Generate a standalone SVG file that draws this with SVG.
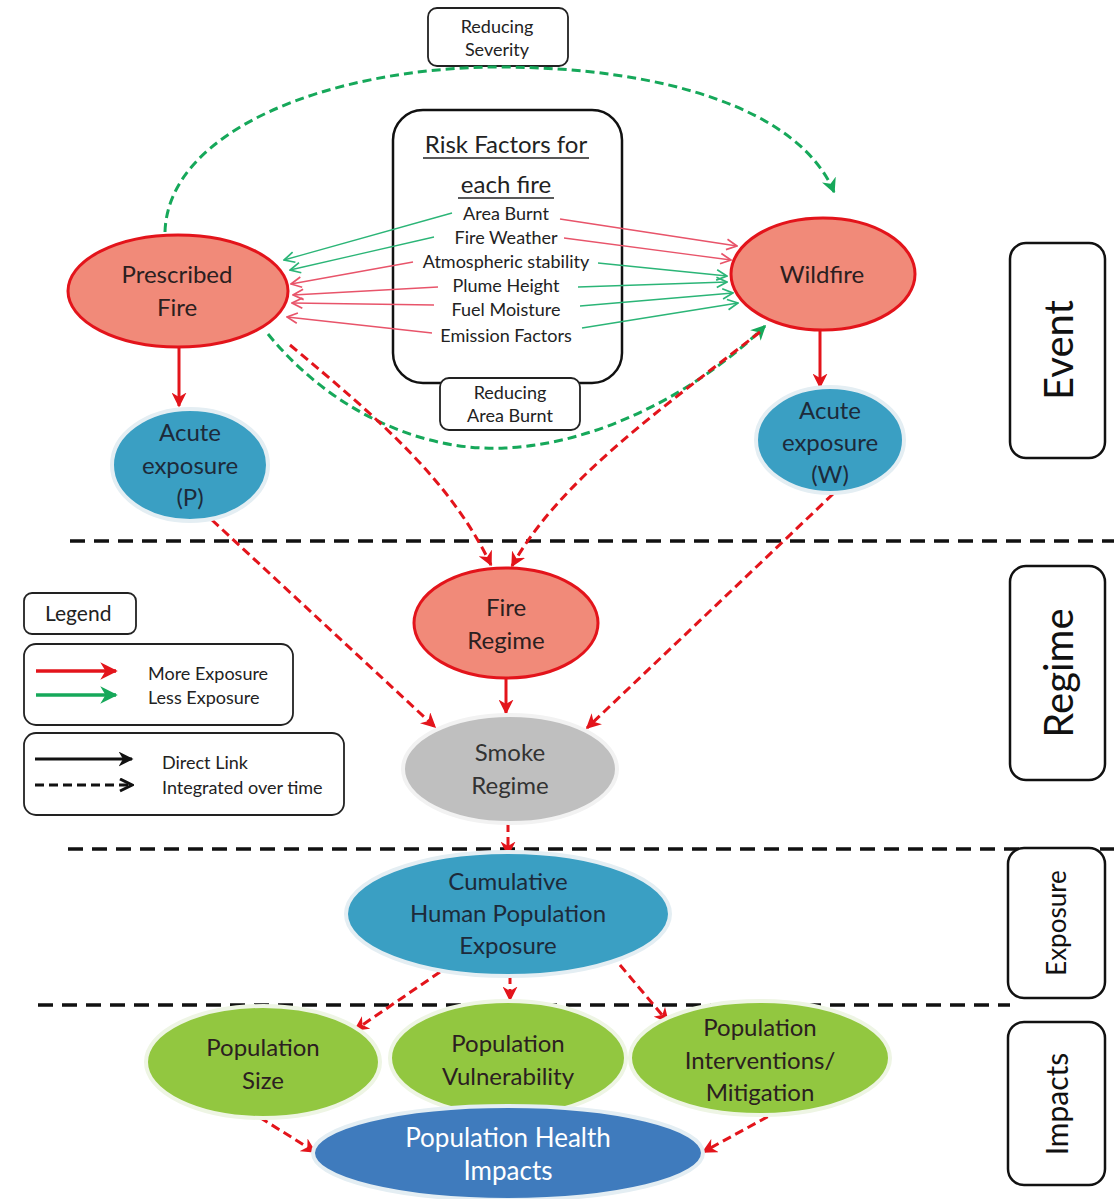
<svg xmlns="http://www.w3.org/2000/svg" width="1114" height="1199" viewBox="0 0 1114 1199">
<defs>
<style>
text{font-family:Lato,"Liberation Sans",sans-serif;text-anchor:middle;fill:#2b2020}
.n{font-size:24px}
.rf{font-size:18px;fill:#222}
.sm{font-size:18px;fill:#222}
.lg{font-size:18px;fill:#222;text-anchor:start}
.side{font-size:40px;fill:#111}
.box{fill:#fff;stroke:#111;stroke-width:2.5}
.sbox{fill:#fff;stroke:#222;stroke-width:1.8}
.fire{fill:#f18a79;stroke:#e3141b;stroke-width:3}
.blue{fill:#3a9fc3;stroke:#e4eef3;stroke-width:4}
.grey{fill:#bfbfbf;stroke:#f2f2f2;stroke-width:4}
.green{fill:#92c740;stroke:#eef5e4;stroke-width:4}
.hi{fill:#3f7bbd;stroke:#e4eef3;stroke-width:4}
.sep{stroke:#111;stroke-width:3.5;stroke-dasharray:15 9;fill:none}
.rd{stroke:#e3141b;stroke-width:3;stroke-dasharray:9 5;fill:none}
.rs{stroke:#e3141b;stroke-width:3;fill:none}
.gd{stroke:#16a85a;stroke-width:3;stroke-dasharray:9 5;fill:none}
.rt{stroke:#e8546a;stroke-width:1.3;fill:none}
.gt{stroke:#2bb577;stroke-width:1.3;fill:none}
</style>
<marker id="rA" viewBox="0 0 10 10" refX="9" refY="5" markerWidth="5" markerHeight="5" orient="auto" markerUnits="strokeWidth"><path d="M0,0 L10,5 L0,10 L3,5 z" fill="#e3141b"/></marker>
<marker id="gA" viewBox="0 0 10 10" refX="9" refY="5" markerWidth="5" markerHeight="5" orient="auto" markerUnits="strokeWidth"><path d="M0,0 L10,5 L0,10 L3,5 z" fill="#16a85a"/></marker>
<marker id="rT" viewBox="0 0 10 10" refX="9" refY="5" markerWidth="10" markerHeight="10" orient="auto" markerUnits="strokeWidth"><path d="M1,1 L9,5 L1,9" fill="none" stroke="#e8546a" stroke-width="1.3"/></marker>
<marker id="gT" viewBox="0 0 10 10" refX="9" refY="5" markerWidth="10" markerHeight="10" orient="auto" markerUnits="strokeWidth"><path d="M1,1 L9,5 L1,9" fill="none" stroke="#2bb577" stroke-width="1.3"/></marker>
<marker id="kA" viewBox="0 0 10 10" refX="9" refY="5" markerWidth="5" markerHeight="5" orient="auto" markerUnits="strokeWidth"><path d="M0,0 L10,5 L0,10 L3,5 z" fill="#111"/></marker>
<marker id="kO" viewBox="0 0 10 10" refX="9" refY="5" markerWidth="5" markerHeight="5" orient="auto" markerUnits="strokeWidth"><path d="M1,1 L9,5 L1,9" fill="none" stroke="#111" stroke-width="2"/></marker>
</defs>
<rect width="1114" height="1199" fill="#fff"/>

<g id="separators">
<line class="sep" x1="70" y1="541" x2="1114" y2="541"/>
<line class="sep" x1="68" y1="849" x2="1114" y2="849"/>
<line class="sep" x1="38" y1="1005" x2="1010" y2="1005"/>
</g>

<g id="reducing-severity">
<rect class="sbox" x="428" y="8" width="140" height="58" rx="9"/>
<text class="sm" x="497" y="33">Reducing</text>
<text class="sm" x="497" y="56">Severity</text>
</g>

<g id="risk-factors">
<rect class="box" x="393" y="110" width="229" height="273" rx="30"/>
<text x="506" y="153" style="font-size:24px;fill:#222">Risk Factors for</text>
<line x1="423" y1="158" x2="589" y2="158" stroke="#222" stroke-width="1.3"/>
<text x="506" y="193" style="font-size:24px;fill:#222">each fire</text>
<line x1="458" y1="198" x2="554" y2="198" stroke="#222" stroke-width="1.3"/>
<text class="rf" x="506" y="220">Area Burnt</text>
<text class="rf" x="506" y="244">Fire Weather</text>
<text class="rf" x="506" y="268">Atmospheric stability</text>
<text class="rf" x="506" y="292">Plume Height</text>
<text class="rf" x="506" y="316">Fuel Moisture</text>
<text class="rf" x="506" y="342">Emission Factors</text>
</g>

<g id="reducing-area-burnt">
<rect class="sbox" x="440" y="378" width="140" height="52" rx="9"/>
<text class="sm" x="510" y="399">Reducing</text>
<text class="sm" x="510" y="422">Area Burnt</text>
</g>

<g id="connectors">
<path class="gd" d="M165,232 C168,130 330,68 497,67 C665,67 800,110 834,192" marker-end="url(#gA)"/>
<path class="gd" d="M268,334 C330,410 420,452 505,448 C600,444 700,390 765,326" marker-end="url(#gA)"/>
<path class="rd" d="M290,345 C380,420 450,480 491,565" marker-end="url(#rA)"/>
<path class="rd" d="M760,332 C660,410 560,480 512,566" marker-end="url(#rA)"/>
<line class="rs" x1="179" y1="347" x2="179" y2="406" marker-end="url(#rA)"/>
<line class="rs" x1="820" y1="329" x2="820" y2="387" marker-end="url(#rA)"/>
<line class="rd" x1="212" y1="520" x2="435" y2="727" marker-end="url(#rA)"/>
<line class="rd" x1="833" y1="494" x2="587" y2="728" marker-end="url(#rA)"/>
<line class="rs" x1="506" y1="677" x2="506" y2="713" marker-end="url(#rA)"/>
<line class="rd" x1="508" y1="823" x2="508" y2="855" marker-end="url(#rA)"/>
<line class="rd" x1="440" y1="972" x2="355" y2="1030" marker-end="url(#rA)"/>
<line class="rd" x1="510" y1="975" x2="510" y2="1000" marker-end="url(#rA)"/>
<line class="rd" x1="620" y1="965" x2="668" y2="1022" marker-end="url(#rA)"/>
<line class="rd" x1="248" y1="1110" x2="315" y2="1152" marker-end="url(#rA)"/>
<line class="rd" x1="780" y1="1110" x2="703" y2="1152" marker-end="url(#rA)"/>
<line class="gt" x1="452" y1="213" x2="284" y2="260" marker-end="url(#gT)"/>
<line class="gt" x1="434" y1="237" x2="290" y2="270" marker-end="url(#gT)"/>
<line class="rt" x1="413" y1="262" x2="291" y2="284" marker-end="url(#rT)"/>
<line class="rt" x1="438" y1="287" x2="293" y2="295" marker-end="url(#rT)"/>
<line class="rt" x1="434" y1="305" x2="292" y2="303" marker-end="url(#rT)"/>
<line class="rt" x1="432" y1="333" x2="287" y2="317" marker-end="url(#rT)"/>
<line class="rt" x1="560" y1="219" x2="737" y2="246" marker-end="url(#rT)"/>
<line class="rt" x1="564" y1="238" x2="731" y2="260" marker-end="url(#rT)"/>
<line class="gt" x1="598" y1="263" x2="727" y2="276" marker-end="url(#gT)"/>
<line class="gt" x1="578" y1="287" x2="727" y2="282" marker-end="url(#gT)"/>
<line class="gt" x1="580" y1="306" x2="733" y2="293" marker-end="url(#gT)"/>
<line class="gt" x1="582" y1="328" x2="738" y2="303" marker-end="url(#gT)"/>
</g>

<g id="prescribed-fire">
<ellipse class="fire" cx="178" cy="291" rx="110" ry="56"/>
<text class="n" x="177" y="283">Prescribed</text>
<text class="n" x="177" y="316">Fire</text>
</g>

<g id="wildfire">
<ellipse class="fire" cx="823" cy="274" rx="92" ry="56"/>
<text class="n" x="822" y="283">Wildfire</text>
</g>

<g id="acute-p">
<ellipse class="blue" cx="190" cy="465" rx="78" ry="56"/>
<text class="n" x="190" y="441" style="fill:#1d2a3a">Acute</text>
<text class="n" x="190" y="474" style="fill:#1d2a3a">exposure</text>
<text class="n" x="190" y="506" style="fill:#1d2a3a">(P)</text>
</g>

<g id="acute-w">
<ellipse class="blue" cx="830" cy="440" rx="74" ry="53"/>
<text class="n" x="830" y="419" style="fill:#1d2a3a">Acute</text>
<text class="n" x="830" y="451" style="fill:#1d2a3a">exposure</text>
<text class="n" x="830" y="483" style="fill:#1d2a3a">(W)</text>
</g>

<g id="fire-regime">
<ellipse class="fire" cx="506" cy="623" rx="92" ry="55"/>
<text class="n" x="506" y="616">Fire</text>
<text class="n" x="506" y="649">Regime</text>
</g>

<g id="smoke-regime">
<ellipse class="grey" cx="510" cy="769" rx="107" ry="54"/>
<text class="n" x="510" y="761" style="fill:#333">Smoke</text>
<text class="n" x="510" y="794" style="fill:#333">Regime</text>
</g>

<g id="cumulative-exposure">
<ellipse class="blue" cx="508" cy="914" rx="162" ry="62"/>
<text class="n" x="508" y="890" style="fill:#1d2a3a">Cumulative</text>
<text class="n" x="508" y="922" style="fill:#1d2a3a">Human Population</text>
<text class="n" x="508" y="954" style="fill:#1d2a3a">Exposure</text>
</g>

<g id="population-size">
<ellipse class="green" cx="263" cy="1062" rx="117" ry="56"/>
<text class="n" x="263" y="1056">Population</text>
<text class="n" x="263" y="1089">Size</text>
</g>

<g id="population-vulnerability">
<ellipse class="green" cx="508" cy="1058" rx="118" ry="57"/>
<text class="n" x="508" y="1052">Population</text>
<text class="n" x="508" y="1085">Vulnerability</text>
</g>

<g id="population-interventions">
<ellipse class="green" cx="760" cy="1058" rx="130" ry="57"/>
<text class="n" x="760" y="1036">Population</text>
<text class="n" x="760" y="1069">Interventions/</text>
<text class="n" x="760" y="1101">Mitigation</text>
</g>

<g id="health-impacts">
<ellipse class="hi" cx="508" cy="1153" rx="195" ry="47"/>
<text x="508" y="1147" style="font-size:26px;fill:#fff">Population Health</text>
<text x="508" y="1180" style="font-size:26px;fill:#fff">Impacts</text>
</g>

<g id="legend">
<rect class="sbox" x="24" y="593" width="112" height="41" rx="8"/>
<text class="lg" x="45" y="621" style="font-size:21px">Legend</text>
<rect class="sbox" x="24" y="644" width="269" height="81" rx="12"/>
<line x1="36" y1="671" x2="116" y2="671" stroke="#e3141b" stroke-width="3.5" marker-end="url(#rA)"/>
<line x1="36" y1="695" x2="116" y2="695" stroke="#16a85a" stroke-width="3.5" marker-end="url(#gA)"/>
<text class="lg" x="148" y="680">More Exposure</text>
<text class="lg" x="148" y="704">Less Exposure</text>
<rect class="sbox" x="24" y="733" width="320" height="82" rx="12"/>
<line x1="35" y1="759" x2="132" y2="759" stroke="#111" stroke-width="3" marker-end="url(#kA)"/>
<line x1="35" y1="785" x2="132" y2="785" stroke="#111" stroke-width="3" stroke-dasharray="9 5" marker-end="url(#kO)"/>
<text class="lg" x="162" y="769">Direct Link</text>
<text class="lg" x="162" y="794">Integrated over time</text>
</g>

<g id="side-event">
<rect class="box" x="1010" y="243" width="95" height="215" rx="16"/>
<text class="side" transform="translate(1073,350) rotate(-90)">Event</text>
</g>
<g id="side-regime">
<rect class="box" x="1010" y="566" width="95" height="214" rx="16"/>
<text class="side" transform="translate(1073,673) rotate(-90)">Regime</text>
</g>
<g id="side-exposure">
<rect class="box" x="1008" y="848" width="97" height="150" rx="16"/>
<text class="side" style="font-size:26px" transform="translate(1066,923) rotate(-90)">Exposure</text>
</g>
<g id="side-impacts">
<rect class="box" x="1008" y="1022" width="97" height="163" rx="16"/>
<text class="side" style="font-size:30px" transform="translate(1068,1104) rotate(-90)">Impacts</text>
</g>
</svg>
